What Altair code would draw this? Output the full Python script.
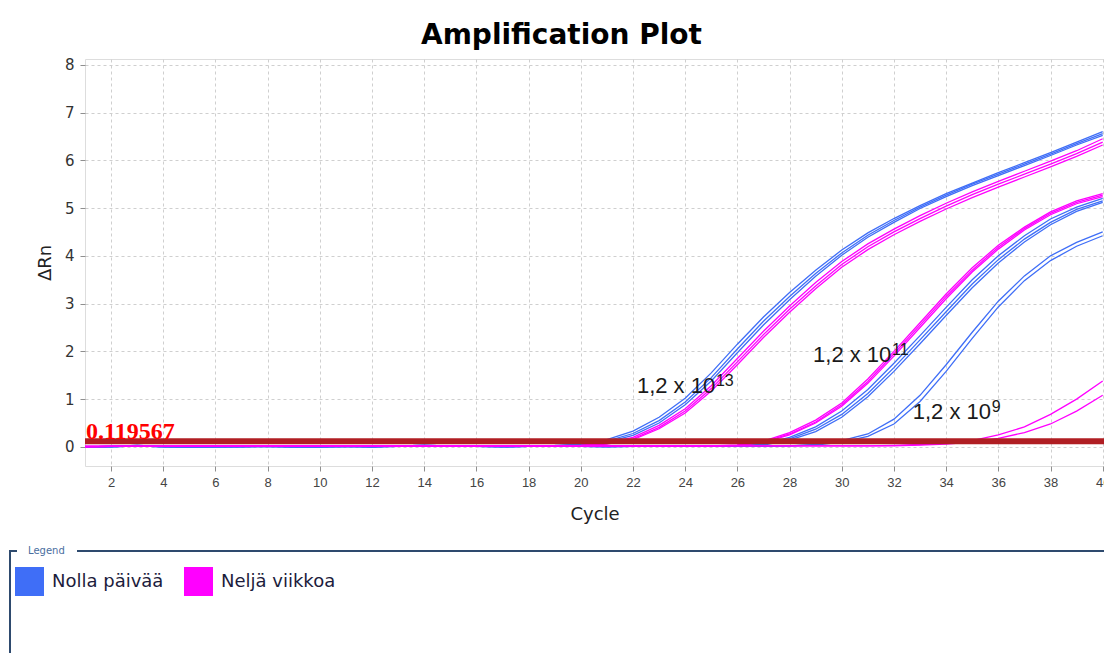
import altair as alt
import pandas as pd

# ---------------- data ----------------
cycles = list(range(1, 41))

group_names = ["Nolla päivää", "Neljä viikkoa"]
group_colors = ["#3f6ef7", "#ff00ff"]

# Nolla päivää (blue) 1,2 x 10^13
b13a = [0.00,0.01,0.03,0.01,0.00,0.01,0.01,0.01,0.01,0.01,0.01,0.01,0.02,0.03,0.02,0.01,0.01,0.02,0.03,0.06,
        0.15,0.33,0.62,1.02,1.55,2.15,2.72,3.23,3.70,4.12,4.48,4.78,5.05,5.30,5.52,5.74,5.95,6.16,6.38,6.60]
b13b = [0.00,0.01,0.02,0.01,0.00,0.00,0.01,0.01,0.00,0.01,0.01,0.00,0.02,0.03,0.02,0.01,0.01,0.01,0.02,0.05,
        0.12,0.28,0.55,0.94,1.45,2.05,2.63,3.15,3.63,4.06,4.43,4.74,5.02,5.27,5.50,5.71,5.92,6.13,6.35,6.56]
b13c = [0.00,0.00,0.02,0.00,0.00,0.00,0.00,0.01,0.00,0.00,0.01,0.00,0.01,0.02,0.02,0.01,0.00,0.01,0.02,0.04,
        0.10,0.24,0.50,0.88,1.38,1.97,2.55,3.08,3.57,4.01,4.39,4.70,4.99,5.24,5.47,5.68,5.89,6.10,6.32,6.52]
# Neljä viikkoa (magenta) 1,2 x 10^13
m13a = [0.01,0.01,0.01,0.01,0.02,0.02,0.02,0.02,0.02,0.02,0.02,0.02,0.02,0.02,0.02,0.02,0.02,0.02,0.02,0.03,
        0.08,0.20,0.45,0.80,1.28,1.85,2.42,2.95,3.44,3.88,4.25,4.56,4.84,5.10,5.34,5.56,5.77,5.98,6.20,6.45]
m13b = [0.01,0.01,0.01,0.01,0.01,0.02,0.02,0.02,0.02,0.02,0.02,0.02,0.02,0.02,0.02,0.02,0.02,0.02,0.02,0.03,
        0.07,0.17,0.41,0.75,1.22,1.78,2.35,2.88,3.37,3.82,4.19,4.50,4.78,5.04,5.28,5.50,5.71,5.92,6.14,6.38]
m13c = [0.00,0.01,0.01,0.01,0.01,0.01,0.01,0.02,0.02,0.02,0.02,0.01,0.02,0.02,0.02,0.02,0.01,0.02,0.02,0.02,
        0.06,0.15,0.38,0.71,1.17,1.72,2.29,2.82,3.31,3.76,4.13,4.44,4.72,4.98,5.22,5.44,5.65,5.86,6.08,6.32]
# Nolla päivää (blue) 1,2 x 10^11
b11a = [0.00,0.01,0.03,0.01,0.00,0.01,0.01,0.01,0.01,0.00,0.01,0.01,0.02,0.03,0.02,0.01,0.01,0.01,0.01,0.01,
        0.01,0.01,0.01,0.01,0.01,0.02,0.06,0.20,0.42,0.75,1.20,1.75,2.33,2.92,3.50,4.00,4.42,4.77,5.02,5.20]
b11b = [0.00,0.01,0.02,0.01,0.00,0.00,0.01,0.01,0.00,0.00,0.01,0.00,0.02,0.03,0.02,0.01,0.01,0.01,0.01,0.01,
        0.01,0.01,0.01,0.01,0.01,0.02,0.05,0.17,0.37,0.68,1.12,1.66,2.24,2.83,3.41,3.92,4.35,4.70,4.97,5.15]
b11c = [0.00,0.00,0.02,0.00,0.00,0.00,0.00,0.01,0.00,0.00,0.01,0.00,0.01,0.02,0.02,0.01,0.00,0.01,0.01,0.01,
        0.00,0.01,0.01,0.01,0.01,0.01,0.04,0.14,0.32,0.62,1.05,1.58,2.16,2.75,3.33,3.85,4.29,4.65,4.93,5.12]
# Neljä viikkoa (magenta) 1,2 x 10^11
m11a = [0.01,0.01,0.01,0.01,0.02,0.02,0.02,0.02,0.02,0.02,0.02,0.02,0.02,0.02,0.02,0.02,0.02,0.02,0.02,0.02,
        0.02,0.02,0.02,0.02,0.02,0.04,0.12,0.30,0.56,0.92,1.42,2.00,2.60,3.20,3.75,4.22,4.60,4.92,5.15,5.30]
m11b = [0.01,0.01,0.01,0.01,0.01,0.02,0.02,0.02,0.02,0.02,0.02,0.02,0.02,0.02,0.02,0.02,0.02,0.02,0.02,0.02,
        0.02,0.02,0.02,0.02,0.02,0.03,0.10,0.27,0.52,0.88,1.37,1.95,2.55,3.15,3.70,4.18,4.57,4.89,5.12,5.27]
m11c = [0.00,0.01,0.01,0.01,0.01,0.01,0.01,0.02,0.02,0.02,0.02,0.01,0.02,0.02,0.02,0.02,0.01,0.02,0.02,0.02,
        0.02,0.02,0.02,0.02,0.02,0.03,0.09,0.25,0.50,0.85,1.33,1.90,2.50,3.10,3.66,4.14,4.54,4.86,5.09,5.24]
# Nolla päivää (blue) 1,2 x 10^9
b9a = [0.00,0.01,0.03,0.01,0.00,0.01,0.01,0.01,0.01,0.00,0.01,0.01,0.02,0.03,0.02,0.01,0.01,0.01,0.01,0.01,
       0.01,0.01,0.01,0.01,0.01,0.01,0.01,0.02,0.05,0.13,0.27,0.58,1.08,1.72,2.40,3.05,3.58,4.00,4.28,4.50]
b9b = [0.00,0.00,0.02,0.00,0.00,0.00,0.00,0.01,0.00,0.00,0.01,0.00,0.01,0.02,0.02,0.01,0.00,0.01,0.01,0.01,
       0.00,0.01,0.01,0.01,0.01,0.01,0.01,0.02,0.04,0.10,0.22,0.48,0.95,1.58,2.27,2.93,3.48,3.90,4.20,4.42]
# Neljä viikkoa (magenta) 1,2 x 10^9
m9a = [0.01,0.01,0.01,0.01,0.02,0.02,0.02,0.02,0.02,0.02,0.02,0.02,0.02,0.02,0.02,0.02,0.02,0.02,0.02,0.02,
       0.02,0.02,0.02,0.02,0.02,0.02,0.02,0.02,0.02,0.02,0.02,0.03,0.05,0.08,0.13,0.25,0.42,0.68,1.00,1.38]
m9b = [0.00,0.01,0.01,0.01,0.01,0.01,0.01,0.02,0.02,0.02,0.02,0.01,0.02,0.02,0.02,0.02,0.01,0.02,0.02,0.02,
       0.02,0.02,0.02,0.02,0.02,0.02,0.02,0.02,0.02,0.02,0.02,0.02,0.04,0.06,0.10,0.18,0.30,0.48,0.75,1.08]

series_list = [
    ("b13a", group_names[0], b13a), ("b13b", group_names[0], b13b), ("b13c", group_names[0], b13c),
    ("b11a", group_names[0], b11a), ("b11b", group_names[0], b11b), ("b11c", group_names[0], b11c),
    ("b9a", group_names[0], b9a), ("b9b", group_names[0], b9b),
    ("m13a", group_names[1], m13a), ("m13b", group_names[1], m13b), ("m13c", group_names[1], m13c),
    ("m11a", group_names[1], m11a), ("m11b", group_names[1], m11b), ("m11c", group_names[1], m11c),
    ("m9a", group_names[1], m9a), ("m9b", group_names[1], m9b),
]

threshold = 0.119567
threshold_label = "0.119567"

# annotation labels: base text, superscript, anchor (cycle, ΔRn)
ann_text = ["1,2 x 10", "1,2 x 10", "1,2 x 10"]
ann_sup = ["13", "11", "9"]
ann_cycle = [22.15, 28.90, 32.72]
ann_value = [1.28, 1.93, 0.74]

x_ticks = list(range(2, 41, 2))
y_ticks = list(range(0, 9))

# ---------------- frames ----------------
rows = []
for sid, grp, vals in series_list:
    for c, v in zip(cycles, vals):
        rows.append({"Cycle": c, "dRn": v, "series": sid, "group": grp})
df = pd.DataFrame(rows)

legend_df = pd.DataFrame({"group": group_names, "Cycle": [None, None], "dRn": [None, None]})
thr_df = pd.DataFrame({"t": [threshold], "label": [threshold_label]})
ann_df = pd.DataFrame({"Cycle": ann_cycle, "dRn": ann_value, "text": ann_text, "sup": ann_sup})
one = pd.DataFrame({"a": [0]})

x_scale = alt.Scale(domain=[1, 40.05], nice=False, zero=False)
y_scale = alt.Scale(domain=[-0.4, 8.12], nice=False, zero=False)
color_scale = alt.Scale(domain=group_names, range=group_colors)

grid_kw = dict(grid=True, gridColor="#cfcfcf", gridDash=[3, 3], gridWidth=1, domain=False,
               tickColor="#8f8f8f", tickWidth=1, tickSize=5)

x_axis = alt.Axis(values=x_ticks, format="d", title="Cycle", labelFont="Liberation Sans",
                  labelFontSize=13, labelColor="#444444", labelPadding=5,
                  titleFont="DejaVu Sans", titleFontSize=18, titleFontWeight="normal",
                  titleColor="#222222", titlePadding=16, **grid_kw)
y_axis = alt.Axis(values=y_ticks, format="d", title="ΔRn", labelFont="DejaVu Sans",
                  labelFontSize=15, labelColor="#333333", labelPadding=6,
                  titleFont="DejaVu Sans", titleFontSize=18, titleFontWeight="normal",
                  titleColor="#222222", titlePadding=10, **grid_kw)

X = alt.X("Cycle:Q", scale=x_scale, axis=x_axis)
Y = alt.Y("dRn:Q", scale=y_scale, axis=y_axis)

legend_layer = alt.Chart(legend_df).mark_square(filled=True, opacity=1).encode(
    x=X, y=Y,
    color=alt.Color("group:N", scale=color_scale, legend=alt.Legend(
        title=None, orient="none", legendX=-70, legendY=508, direction="horizontal",
        symbolType="square", symbolSize=841, symbolStrokeWidth=0, symbolOpacity=1,
        labelFont="DejaVu Sans", labelFontSize=18, labelColor="#1c1c3c",
        labelOffset=8, columnPadding=20, padding=0)),
)

lines = alt.Chart(df).mark_line(strokeWidth=1.3, interpolate="linear").encode(
    x=X, y=Y,
    color=alt.Color("group:N", scale=color_scale, legend=None),
    detail="series:N",
)

thr_rule = alt.Chart(thr_df).mark_rule(color="#b01e23", strokeWidth=6).encode(
    y=alt.Y("t:Q", scale=y_scale, axis=y_axis)
)
thr_text = alt.Chart(thr_df).mark_text(
    font="Liberation Serif", fontSize=24, fontWeight="bold", color="#ff0000",
    align="left", baseline="alphabetic", dy=-2
).encode(
    x=alt.value(1),
    y=alt.Y("t:Q", scale=y_scale, axis=y_axis),
    text="label:N",
)

ann_main = alt.Chart(ann_df).mark_text(
    font="Liberation Sans", fontSize=22, color="#1a1a1a", align="left", baseline="middle"
).encode(x=X, y=Y, text="text:N")
ann_supt = alt.Chart(ann_df).mark_text(
    font="Liberation Sans", fontSize=16, color="#1a1a1a", align="left", baseline="middle",
    dx=79, dy=-5
).encode(x=X, y=Y, text="sup:N")

box_color = "#2e4a6e"
box_a = alt.Chart(one).mark_rule(color=box_color, strokeWidth=2).encode(
    x=alt.value(-76), x2=alt.value(-68), y=alt.value(492))
box_b = alt.Chart(one).mark_rule(color=box_color, strokeWidth=2).encode(
    x=alt.value(-8), x2=alt.value(1030), y=alt.value(492))
box_c = alt.Chart(one).mark_rule(color=box_color, strokeWidth=2).encode(
    x=alt.value(-75), y=alt.value(491), y2=alt.value(620))
box_title = alt.Chart(one).mark_text(
    text="Legend", font="DejaVu Sans", fontSize=10, color="#4a6ea0", align="left", baseline="middle"
).encode(x=alt.value(-57), y=alt.value(492))

chart = alt.layer(
    legend_layer, lines, thr_rule, thr_text, ann_main, ann_supt,
    box_a, box_b, box_c, box_title,
).properties(
    width=1019, height=407,
    title=alt.TitleParams("Amplification Plot", font="DejaVu Sans", fontSize=28,
                          fontWeight="bold", color="#000000", anchor="middle",
                          dx=-33, dy=30, offset=10, baseline="bottom"),
    autosize=alt.AutoSizeParams(type="none"),
    padding={"left": 85, "top": 59, "right": 0, "bottom": 187},
).configure_view(
    stroke="#8f8f8f", strokeWidth=1.5
).configure(background="white")

chart.save("out.html", embed_options={"renderer": "svg", "actions": False})
